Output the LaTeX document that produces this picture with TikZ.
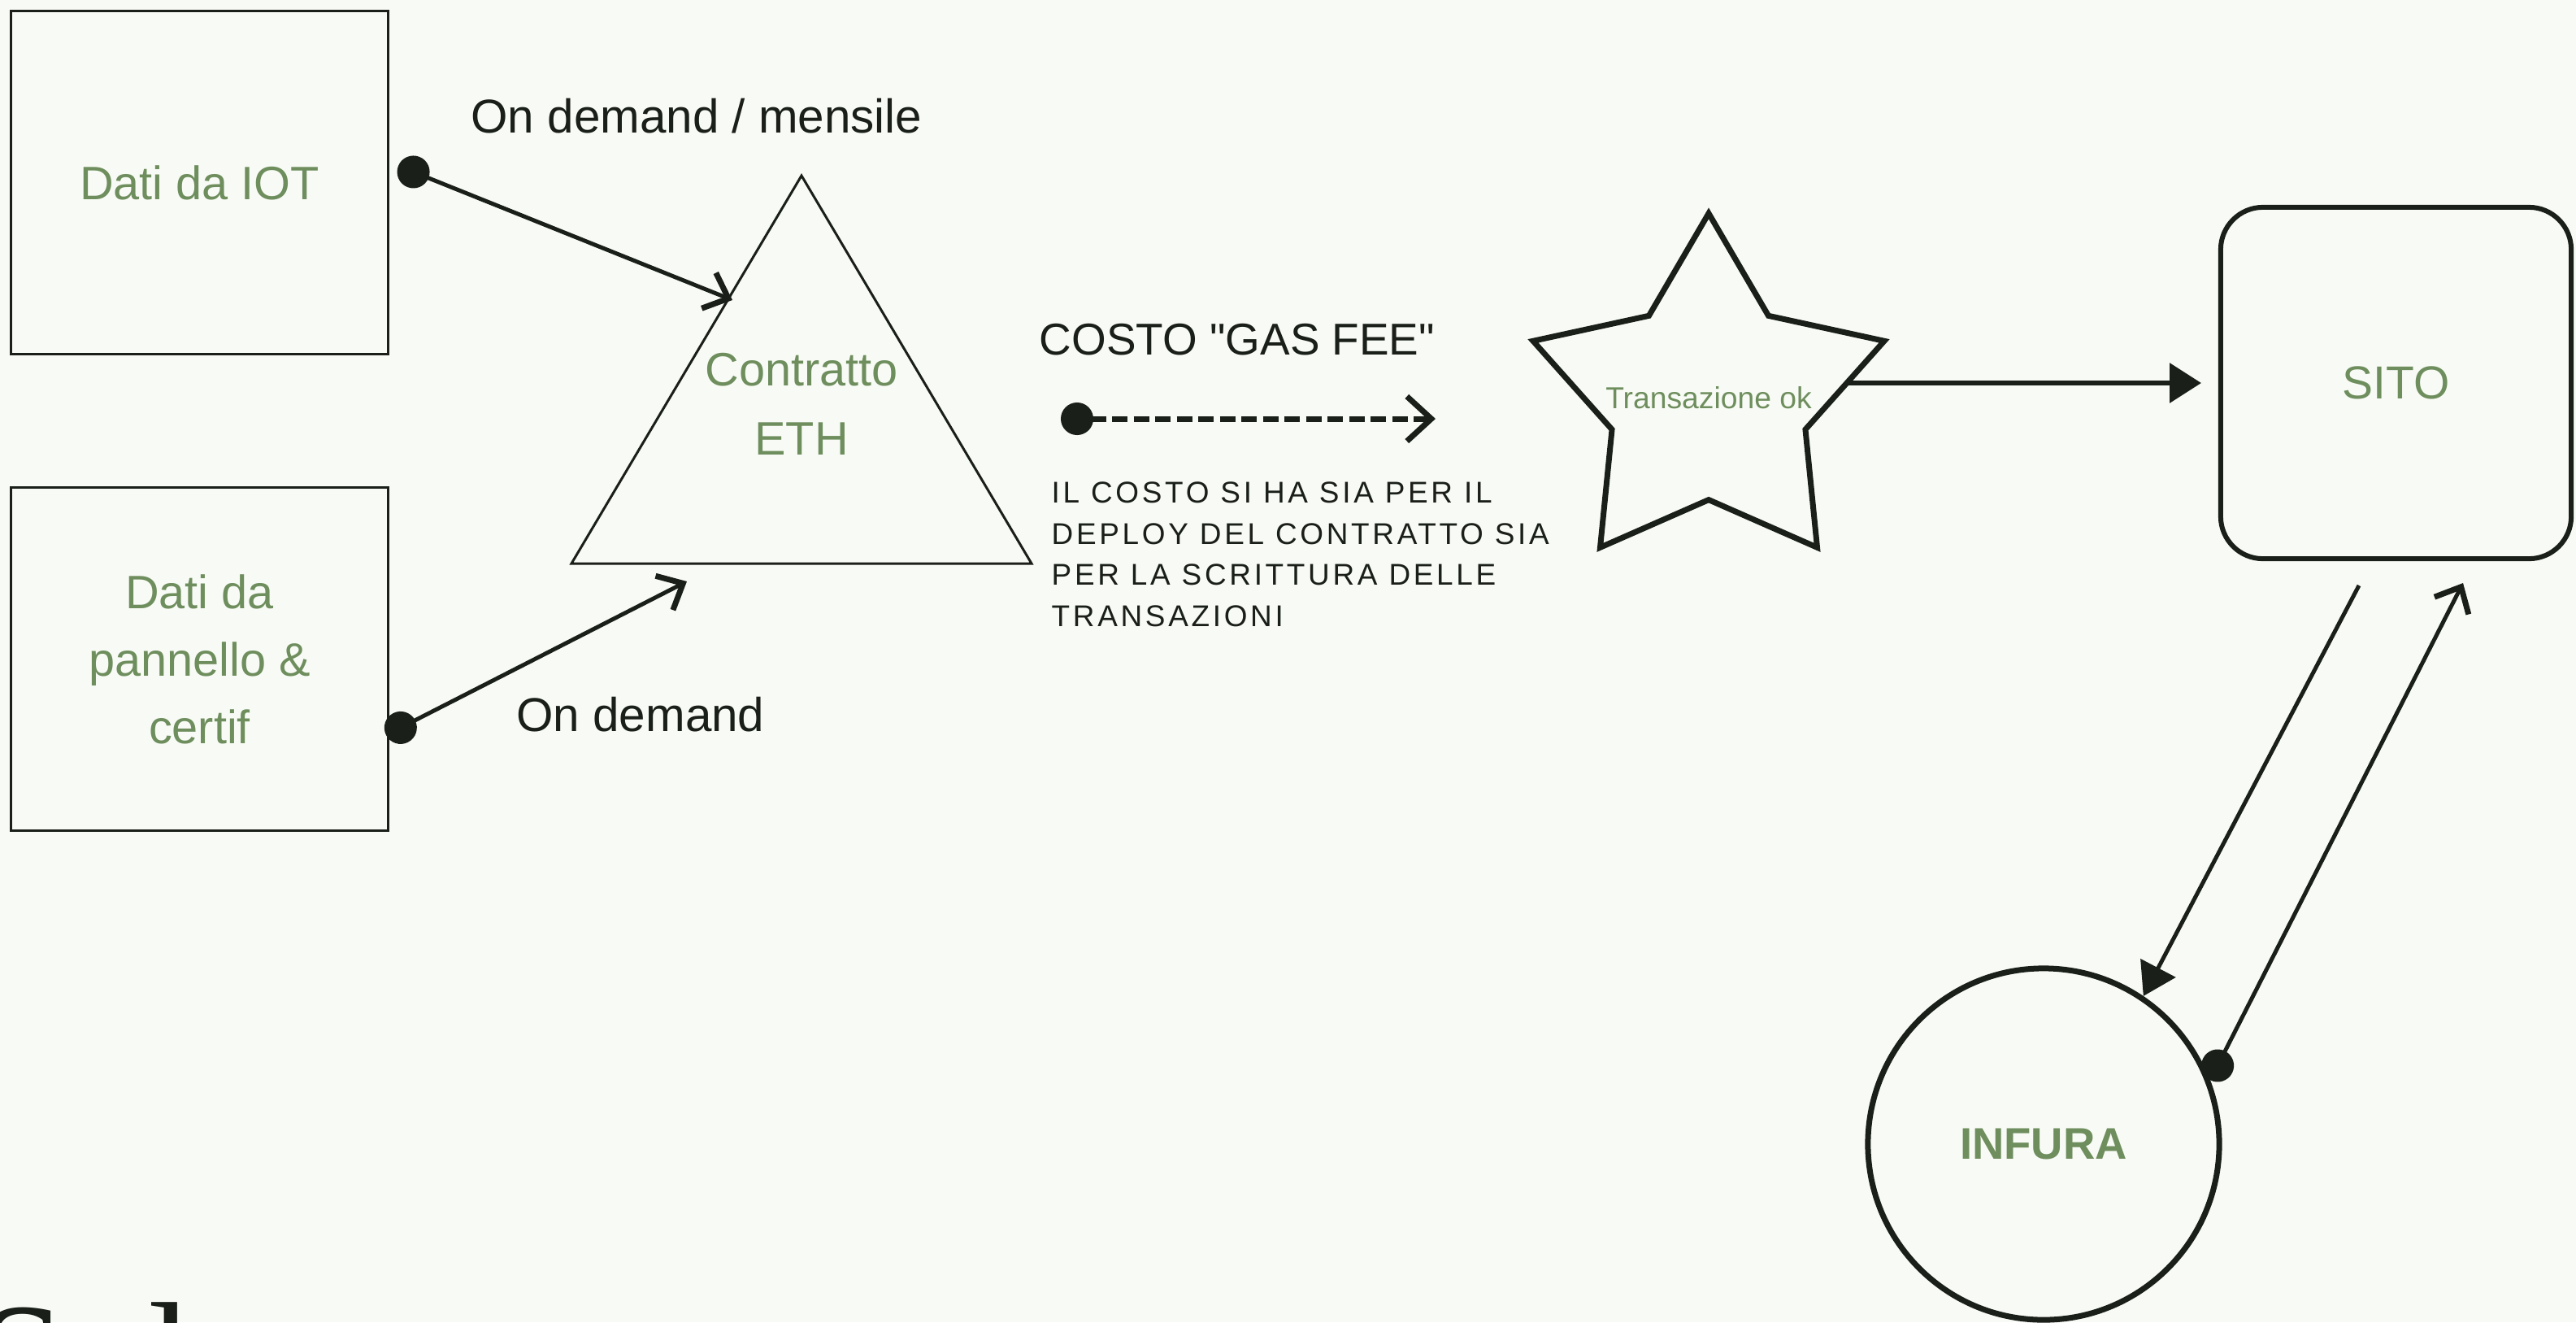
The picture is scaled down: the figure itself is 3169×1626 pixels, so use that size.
\documentclass[tikz,border=0pt]{standalone}
\usepackage{fontspec}
\setmainfont{Liberation Sans}
\newfontfamily\spacedfont[LetterSpace=10]{Liberation Sans}
\newfontfamily\rawsans[Ligatures=TeXOff]{Liberation Sans}
\newfontfamily\bigserif{Liberation Serif}
\usetikzlibrary{arrows.meta,shapes.geometric}
\definecolor{bg}{HTML}{F8FBF5}
\definecolor{ink}{HTML}{1B1F1A}
\definecolor{leaf}{HTML}{6F8E5E}
\begin{document}
\begin{tikzpicture}[x=0.01cm,y=-0.01cm,
  databox/.style={draw=ink, line width=0.03cm, minimum width=4.63cm, minimum height=4.21cm,
    inner sep=0pt, text=leaf, font=\fontsize{16.4pt}{23.6pt}\selectfont, align=center},
  greentxt/.style={text=leaf, inner sep=0pt, align=center, font=\fontsize{16.4pt}{24.2pt}\selectfont},
  lbl/.style={text=ink, inner sep=0pt, font=\fontsize{16.6pt}{20pt}\selectfont},
  conn/.style={draw=ink, line width=0.05cm},
  dotstart/.style={{Circle[length=0.4cm]}-{Straight Barb[length=0.26cm, width=0.47cm, line width=0.07cm]}},
  filltip/.style={-{Triangle[length=0.39cm, width=0.48cm]}}
]
\useasboundingbox (0,0) rectangle (3169,1626);
\clip (0,0) rectangle (3169,1626);
\fill[bg] (0,0) rectangle (3169,1626);

% data boxes
\node[databox] (iot) at (245.5,224.5) {Dati da IOT};
\node[databox] (pan) at (245.5,810.5) {Dati da\\pannello \&\\certif};

% triangle (contract)
\coordinate (tA) at (986,216);
\coordinate (tL) at (703,693);
\coordinate (tR) at (1269,693);
\draw[ink, line width=0.03cm, line join=miter] (tA) -- (tL) -- (tR) -- cycle;
\node[greentxt] (eth) at (986,497) {Contratto\\ETH};

% star
\node[star, star points=5, star point ratio=1.816, minimum size=4.54cm, inner sep=0pt,
  draw=ink, line width=0.07cm, line join=miter,
  label={[text=leaf, inner sep=0pt, font=\fontsize{10.6pt}{12pt}\selectfont]center:Transazione ok}]
  (tx) at (2102,489.5) {};

% SITO
\node[draw=ink, line width=0.06cm, rounded corners=0.52cm, minimum width=4.31cm, minimum height=4.32cm,
  text=leaf, font=\fontsize{16.2pt}{20pt}\selectfont] (sito) at (2947.5,471) {SITO};

% INFURA
\node[circle, draw=ink, line width=0.07cm, minimum size=4.32cm, inner sep=0pt,
  text=leaf, font=\bfseries\fontsize{15.5pt}{18pt}\selectfont] (inf) at (2514,1407) {INFURA};

% labels
\node[lbl] (l1) at (857,143) {On demand / mensile};
\node[lbl] (l2) at (788,879) {On demand};
\node[lbl, font=\rawsans\fontsize{15.6pt}{20pt}\selectfont] (l3) at (1522,418) {COSTO "GAS FEE"};
\node[anchor=north west, inner sep=0pt, text=ink, align=left,
  font=\spacedfont\fontsize{10.5pt}{14.37pt}\selectfont] (l4) at (1293,592)
  {IL COSTO SI HA SIA PER IL\\DEPLOY DEL CONTRATTO SIA\\PER LA SCRITTURA DELLE\\TRANSAZIONI};

% partial big text at bottom left
\node[anchor=base west, inner sep=0pt, text=ink, font=\bigserif\fontsize{56.9pt}{60pt}\selectfont] (sol) at (-30,1740) {Sol};

% connector end points
\coordinate (a1s) at (490,204);
\coordinate (a1e) at (901,369);
\coordinate (a2s) at (475,904);
\coordinate (a2e) at (845,715);
\coordinate (a3s) at (1305,515);
\coordinate (a3e) at (1766,515);
\coordinate (a4s) at (2271,471);
\coordinate (a4e) at (2708,471);
\coordinate (a5s) at (2902,720);
\coordinate (a6e) at (3030,717);

% connectors
\draw[conn, dotstart] (a1s) -- (a1e);
\draw[conn, dotstart] (a2s) -- (a2e);
\draw[ink, line width=0.07cm, dash pattern=on 0.19cm off 0.075cm,
  {Circle[length=0.4cm]}-{Straight Barb[length=0.30cm, width=0.55cm, line width=0.07cm]}] (a3s) -- (a3e);
\draw[ink, line width=0.065cm, filltip] (a4s) -- (a4e);
\draw[conn, filltip] (a5s) -- (inf.56.6);
\draw[conn, dotstart] (inf.21) -- (a6e);
\end{tikzpicture}
\end{document}
